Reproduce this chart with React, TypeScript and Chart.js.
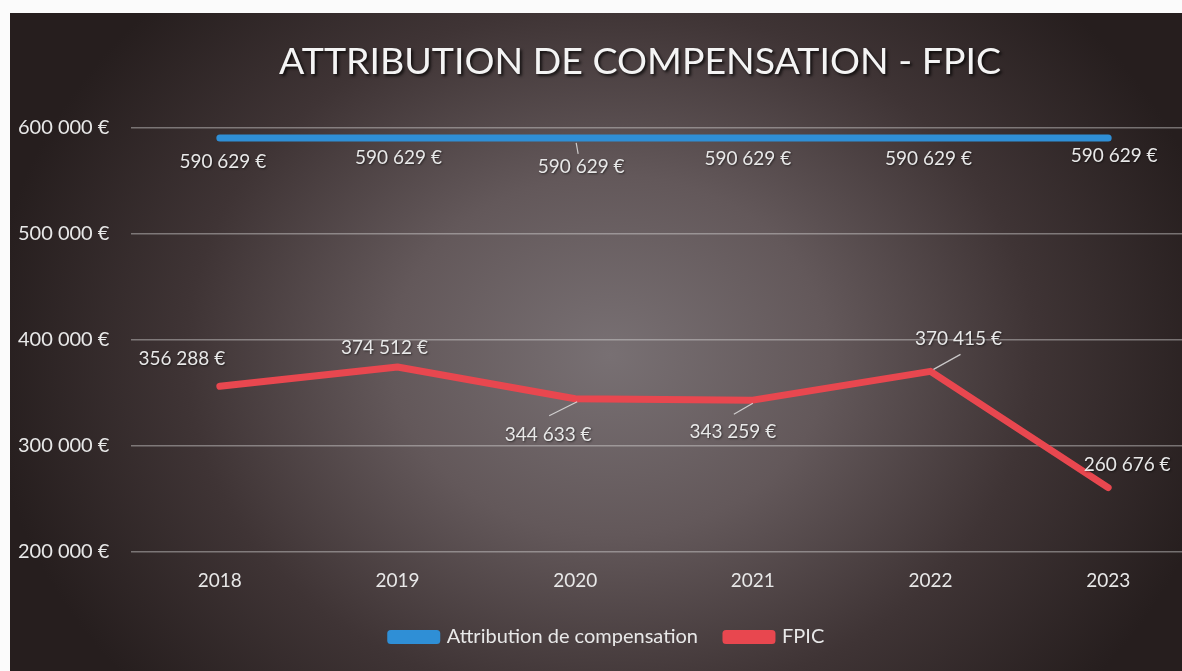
import { useEffect, useRef } from "react";
import { Chart, registerables } from "chart.js";

Chart.register(...registerables);

const TITLE = "ATTRIBUTION DE COMPENSATION - FPIC";
const years = ["2018", "2019", "2020", "2021", "2022", "2023"];
const seriesNames = ["Attribution de compensation", "FPIC"];
const attribution = [590629, 590629, 590629, 590629, 590629, 590629];
const fpic = [356288, 374512, 344633, 343259, 370415, 260676];
const yTicks = [200000, 300000, 400000, 500000, 600000];

// label placement (styling): [dx, dy] from the point, optional leader [x1,y1,x2,y2]
type LabelPos = { dx: number; dy: number; leader?: number[] };
const blueLabelPos: LabelPos[] = [
  { dx: 3, dy: 24 },
  { dx: 1, dy: 20 },
  { dx: 6, dy: 29, leader: [1, 5, 3, 16] },
  { dx: -5, dy: 21 },
  { dx: -2, dy: 21 },
  { dx: 6, dy: 18 },
];
const redLabelPos: LabelPos[] = [
  { dx: -38, dy: -27 },
  { dx: -13, dy: -19 },
  { dx: -27, dy: 36, leader: [2, 3, -26, 17] },
  { dx: -20, dy: 32, leader: [0, 3, -19, 14] },
  { dx: 28, dy: -32, leader: [3, -2, 30, -17] },
  { dx: 19, dy: -23 },
];

const BLUE = "#2f8fd6";
const RED = "#e8474f";
const FONT = "Lato, 'Open Sans', sans-serif";
const TEXT = "#e8e8e8";

const euro = (v: number) =>
  String(Math.round(v)).replace(/\B(?=(\d{3})+(?!\d))/g, " ") + " €";

const labelPlugin = {
  id: "pointLabels",
  afterDatasetsDraw(chart: any) {
    const ctx = chart.ctx;
    const posSets = [blueLabelPos, redLabelPos];
    ctx.save();
    ctx.font = `19px ${FONT}`;
    ctx.textAlign = "center";
    ctx.textBaseline = "middle";
    chart.data.datasets.forEach((ds: any, di: number) => {
      const meta = chart.getDatasetMeta(di);
      meta.data.forEach((pt: any, i: number) => {
        const p = posSets[di][i];
        if (p.leader) {
          ctx.strokeStyle = "rgba(225,225,225,0.85)";
          ctx.lineWidth = 1.2;
          ctx.beginPath();
          ctx.moveTo(pt.x + p.leader[0], pt.y + p.leader[1]);
          ctx.lineTo(pt.x + p.leader[2], pt.y + p.leader[3]);
          ctx.stroke();
        }
        ctx.shadowColor = "rgba(0,0,0,0.5)";
        ctx.shadowBlur = 2;
        ctx.shadowOffsetX = 1;
        ctx.shadowOffsetY = 1;
        ctx.fillStyle = TEXT;
        ctx.fillText(euro(ds.data[i]), pt.x + p.dx, pt.y + p.dy);
        ctx.shadowColor = "transparent";
      });
    });
    ctx.restore();
  },
};

const titlePlugin = {
  id: "customTitle",
  afterDraw(chart: any) {
    const ctx = chart.ctx;
    ctx.save();
    ctx.font = `37.5px ${FONT}`;
    ctx.textAlign = "center";
    ctx.textBaseline = "middle";
    ctx.shadowColor = "rgba(0,0,0,0.75)";
    ctx.shadowBlur = 3;
    ctx.shadowOffsetX = 2;
    ctx.shadowOffsetY = 2;
    ctx.fillStyle = "#f4f4f4";
    ctx.fillText(TITLE, 630, 49);
    ctx.restore();
  },
};

export default function App() {
  const ref = useRef<HTMLCanvasElement>(null);
  useEffect(() => {
    const chart = new Chart(ref.current as HTMLCanvasElement, {
      type: "line",
      data: {
        labels: years,
        datasets: [
          {
            label: seriesNames[0],
            data: attribution,
            borderColor: BLUE,
            backgroundColor: BLUE,
            borderWidth: 7,
            borderCapStyle: "round",
            borderJoinStyle: "round",
            pointRadius: 0,
            tension: 0,
          },
          {
            label: seriesNames[1],
            data: fpic,
            borderColor: RED,
            backgroundColor: RED,
            borderWidth: 7,
            borderCapStyle: "round",
            borderJoinStyle: "round",
            pointRadius: 0,
            tension: 0,
          },
        ],
      },
      options: {
        responsive: false,
        animation: false,
        devicePixelRatio: 1,
        layout: { padding: { left: 8, right: 13, top: 115, bottom: 14 } },
        plugins: {
          title: { display: false },
          tooltip: { enabled: false },
          legend: {
            position: "bottom",
            labels: {
              color: TEXT,
              font: { family: FONT, size: 20 },
              boxWidth: 46,
              boxHeight: 7,
              padding: 28,
            },
          },
        },
        scales: {
          x: {
            offset: true,
            grid: { display: false, drawTicks: false },
            border: { display: false },
            ticks: {
              color: TEXT,
              font: { family: FONT, size: 19 },
              padding: 17,
            },
            afterFit: (s: any) => {
              s.height = 47;
            },
          },
          y: {
            min: yTicks[0],
            max: yTicks[yTicks.length - 1],
            afterBuildTicks: (s: any) => {
              s.ticks = yTicks.map((v) => ({ value: v }));
            },
            grid: {
              color: "rgba(225,225,225,0.42)",
              lineWidth: 1.5,
              drawTicks: false,
            },
            border: { display: false },
            ticks: {
              color: TEXT,
              font: { family: FONT, size: 20 },
              crossAlign: "far",
              callback: (v: any) => euro(Number(v)),
            },
            afterFit: (s: any) => {
              s.width = 113;
            },
          },
        },
      },
      plugins: [labelPlugin, titlePlugin],
    } as any);
    return () => chart.destroy();
  }, []);

  return (
    <div
      style={{
        position: "fixed",
        left: 0,
        top: 0,
        width: 1182,
        height: 671,
        background: "#fbfbfb",
        overflow: "hidden",
      }}
    >
      <div
        style={{
          position: "absolute",
          left: 10,
          top: 13,
          width: 1200,
          height: 658,
          background:
            "radial-gradient(ellipse 52% 78% at 50% 52%, #787073 0%, #63585a 35%, #3f3435 68%, #261e1e 100%)",
        }}
      >
        <canvas ref={ref} width={1200} height={658} style={{ display: "block" }} />
      </div>
    </div>
  );
}
